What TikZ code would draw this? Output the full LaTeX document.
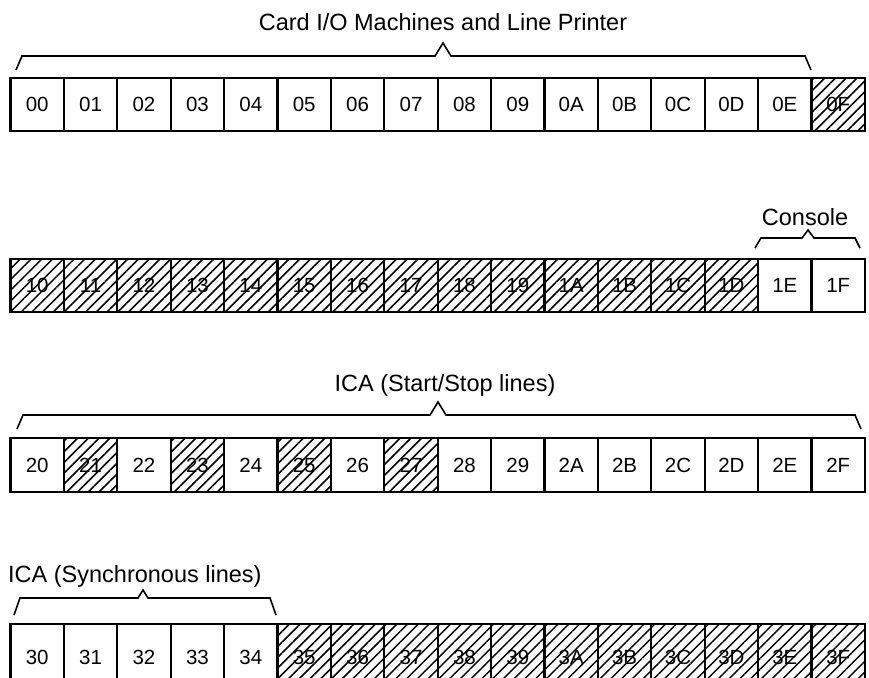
\documentclass[tikz,border=0pt]{standalone}
\usepackage{fontspec}
\setmainfont{Liberation Sans}
\usetikzlibrary{patterns.meta}
\tikzset{
  cell/.style={draw, line width=2.3pt, minimum width=53.4pt, minimum height=53.5pt,
    inner sep=0pt, font=\fontsize{20.5}{24}\selectfont},
  hcell/.style={cell, pattern={Lines[angle=45,distance=7.6pt,line width=1.5pt]}},
  lbl/.style={font=\fontsize{23.5}{28}\selectfont, inner sep=0pt},
  brace/.style={line width=1.6pt, line join=miter}
}
\begin{document}
\begin{tikzpicture}[x=1pt,y=-1pt]
\useasboundingbox (0,0) rectangle (869,677);
% row 0
\foreach \c/\s [count=\i from 0] in {0/cell,1/cell,2/cell,3/cell,4/cell,5/cell,6/cell,7/cell,8/cell,9/cell,A/cell,B/cell,C/cell,D/cell,E/cell,F/hcell}
  \node[\s] (c0\c) at ({10.5+53.4*(\i+0.5)},104.5) {0\c};
% row 1
\foreach \c/\s [count=\i from 0] in {0/hcell,1/hcell,2/hcell,3/hcell,4/hcell,5/hcell,6/hcell,7/hcell,8/hcell,9/hcell,A/hcell,B/hcell,C/hcell,D/hcell,E/cell,F/cell}
  \node[\s] (c1\c) at ({10.5+53.4*(\i+0.5)},285.5) {1\c};
% row 2
\foreach \c/\s [count=\i from 0] in {0/cell,1/hcell,2/cell,3/hcell,4/cell,5/hcell,6/cell,7/hcell,8/cell,9/cell,A/cell,B/cell,C/cell,D/cell,E/cell,F/cell}
  \node[\s] (c2\c) at ({10.5+53.4*(\i+0.5)},465) {2\c};
% row 3
\foreach \c/\s [count=\i from 0] in {0/cell,1/cell,2/cell,3/cell,4/cell,5/hcell,6/hcell,7/hcell,8/hcell,9/hcell,A/hcell,B/hcell,C/hcell,D/hcell,E/hcell,F/hcell}
  \node[\s, minimum height=66pt] (c3\c) at ({10.5+53.4*(\i+0.5)},657) {3\c};
% labels
\node[lbl] (t0) at (443,22) {Card I/O Machines and Line Printer};
\node[lbl] (t1) at (805,217) {Console};
\node[lbl] (t2) at (445,385) {ICA (Start/Stop lines)};
\node[lbl, anchor=west] (t3) at (8,576) {ICA (Synchronous lines)};
% braces
\draw[brace] (16,70) -- (22,56) -- (435,56) -- (443,43) -- (451,56) -- (805,56) -- (811,70);
\draw[brace] (755,248) -- (761,238) -- (802,238) -- (808,230) -- (814,238) -- (855,238) -- (860,248);
\draw[brace] (17,429) -- (23,415) -- (430,415) -- (438,402) -- (446,415) -- (855,415) -- (861,429);
\draw[brace] (14,615) -- (20,598) -- (138,598) -- (143,590) -- (148,598) -- (270,598) -- (276,615);
\end{tikzpicture}
\end{document}
